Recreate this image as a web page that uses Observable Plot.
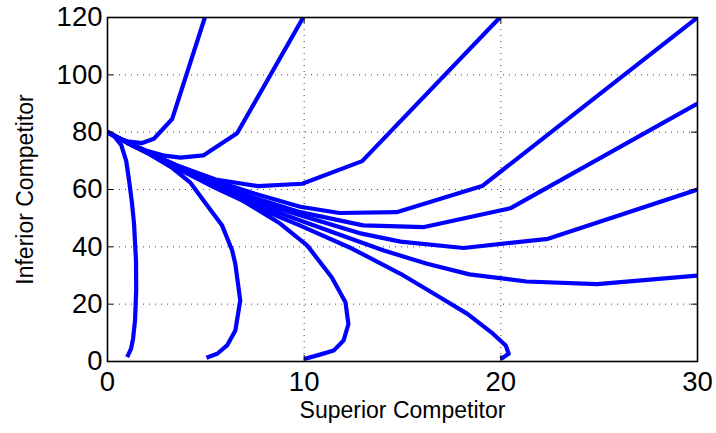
<!DOCTYPE html>
<html>
<head>
<meta charset="utf-8">
<script src="https://cdn.jsdelivr.net/npm/d3@7"></script>
<script src="https://cdn.jsdelivr.net/npm/@observablehq/plot@0.6"></script>
<style>
  html, body { margin: 0; padding: 0; background: #fff; }
  #chart { width: 716px; height: 433px; }
</style>
</head>
<body>
<div id="chart"></div>
<script>
// Tick values
const xTicks = [0, 10, 20, 30];
const yTicks = [0, 20, 40, 60, 80, 100, 120];
const xLabel = "Superior Competitor";
const yLabel = "Inferior Competitor";

// Trajectories (Superior, Inferior)
const trajA = [[0,80],[0.35,78.5],[0.7,75.5],[0.95,70],[1.1,63],[1.25,55],[1.35,48],[1.45,35],[1.46,25],[1.4,14.3],[1.3,8],[1.2,4.5],[1.0,1.5]];
const trajB = [[0,80],[1,76.3],[2,72.8],[3.3,67.5],[4.2,62.5],[4.9,56],[5.83,47.4],[6.34,38.7],[6.5,34],[6.75,21.3],[6.5,10.8],[6.08,5.6],[5.58,2.7],[5.03,1.3]];
const trajC = [[0,80],[1,76.3],[2,73],[3.5,67.5],[5.5,60.5],[6.9,56],[8.7,48.5],[10.15,40.5],[11.4,29.4],[12.1,20.7],[12.25,13],[12,7.3],[11.5,3.8],[10.8,2.4],[10,0.9]];
const trajD = [[0,80],[1,76.3],[2,73],[3.5,67.5],[5.5,61],[7.5,54],[9.8,47.4],[12.4,39.5],[14.9,30.6],[16.9,22.4],[18.3,16.6],[19.6,9.7],[20.25,5.6],[20.4,2.7],[20,0.9]];
const trajE = [[0,80],[0.5,78],[1,76.8],[1.76,76.2],[2.36,77.7],[3.29,84.6],[4.95,120]];
const trajF = [[0,80],[1,76.5],[2,73.5],[2.9,71.8],[3.71,71.1],[4.87,71.9],[6.59,79.6],[9.95,120]];
const trajG = [[0,80],[1,76.4],[2,73],[3.5,68.5],[5.5,63.5],[7.65,61.2],[9.9,62],[12.95,69.9],[19.95,120]];
const trajH = [[0,80],[1,76.4],[2,73],[3.5,68.5],[5.5,63],[7.5,58.5],[9.8,54],[11.8,51.8],[14.7,52.1],[19.05,61.2],[30,120]];
const trajI = [[0,80],[1,76.4],[2,73],[3.5,68.3],[5.5,62.5],[7.5,57],[9.8,52.1],[13,47.5],[16.1,46.9],[20.5,53.5],[30,90]];
const trajJ = [[0,80],[1,76.4],[2,73],[3.5,68],[5.5,62],[7.5,56],[9.8,51],[12.8,44.8],[14.9,41.8],[18.1,39.6],[22.4,42.8],[30,60]];
const trajK = [[0,80],[1,76.4],[2,73],[3.5,67.8],[5.5,61.5],[7.5,55],[9.8,49.2],[14.05,38.7],[16.25,34.1],[18.4,30.4],[21.3,27.9],[24.9,27],[30,30]];

const trajectories = {A: trajA, B: trajB, C: trajC, D: trajD, E: trajE, F: trajF, G: trajG, H: trajH, I: trajI, J: trajJ, K: trajK};
const rows = [];
for (const [id, pts] of Object.entries(trajectories)) {
  for (const [x, y] of pts) rows.push({id, x, y});
}

const W = 716, H = 433;
const mL = 107, mR = 19, mT = 17, mB = 72;
const plotW = W - mL - mR, plotH = H - mT - mB;
const tickLen = 6;
const font = "'Liberation Sans', Arial, Helvetica, sans-serif";

const chart = Plot.plot({
  width: W,
  height: H,
  marginLeft: mL,
  marginRight: mR,
  marginTop: mT,
  marginBottom: mB,
  style: {fontFamily: font, background: "#fff", color: "#000"},
  x: {domain: [0, 30], ticks: xTicks},
  y: {domain: [0, 120], ticks: yTicks},
  marks: [
    // dotted grid
    Plot.ruleX(xTicks, {x: d => d, stroke: "#444", strokeWidth: 1, strokeDasharray: "1,5"}),
    Plot.ruleY(yTicks, {y: d => d, stroke: "#444", strokeWidth: 1, strokeDasharray: "1,5"}),
    // trajectories
    Plot.line(rows, {x: "x", y: "y", z: "id", stroke: "#0000ff", strokeWidth: 4.2, strokeLinejoin: "round", strokeLinecap: "butt", clip: true}),
    // inward ticks on all four sides
    Plot.ruleX(xTicks, {x: d => d, insetTop: plotH - tickLen, stroke: "#000", strokeWidth: 1}),
    Plot.ruleX(xTicks, {x: d => d, insetBottom: plotH - tickLen, stroke: "#000", strokeWidth: 1}),
    Plot.ruleY(yTicks, {y: d => d, insetRight: plotW - tickLen, stroke: "#000", strokeWidth: 1}),
    Plot.ruleY(yTicks, {y: d => d, insetLeft: plotW - tickLen, stroke: "#000", strokeWidth: 1}),
    Plot.frame({stroke: "#000", strokeWidth: 1.6}),
    // tick labels
    Plot.axisX({ticks: xTicks, tickSize: 0, tickPadding: 10, fontSize: 27.5, label: null}),
    Plot.axisY({ticks: yTicks, tickSize: 0, tickPadding: 5, fontSize: 27.5, label: null}),
    // axis titles
    Plot.text([xLabel], {text: d => d, frameAnchor: "bottom", textAnchor: "middle", lineAnchor: "middle", dy: 49, fontSize: 23, fill: "#000"}),
    Plot.text([yLabel], {text: d => d, frameAnchor: "left", textAnchor: "middle", lineAnchor: "middle", dx: -82, rotate: -90, fontSize: 23, fill: "#000"})
  ]
});
document.getElementById("chart").appendChild(chart);
</script>
</body>
</html>
